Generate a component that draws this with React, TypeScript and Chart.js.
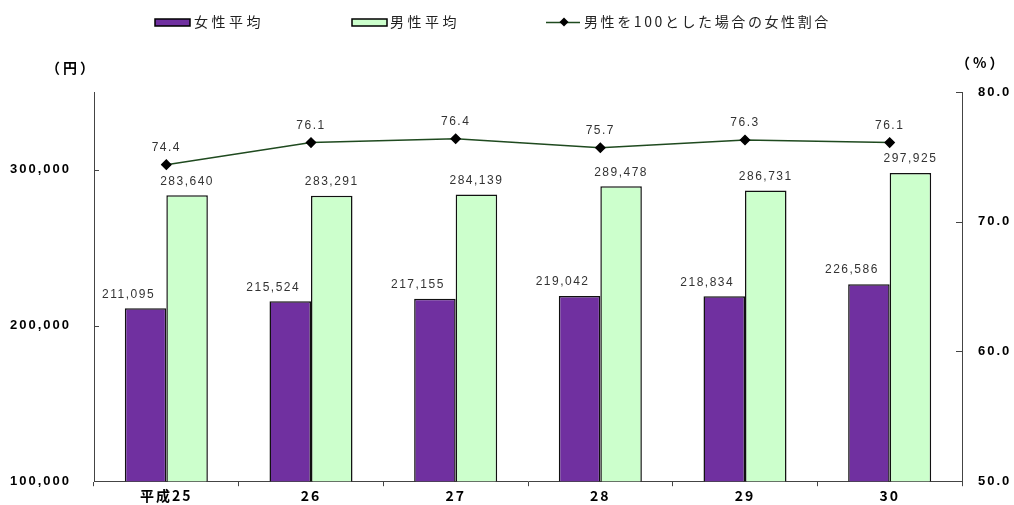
import React, { useEffect, useRef } from "react";
import { Chart, registerables } from "chart.js";

Chart.register(...registerables);

const categories = ["平成25", "26", "27", "28", "29", "30"];
const femaleAvg = [211095, 215524, 217155, 219042, 218834, 226586];
const maleAvg = [283640, 283291, 284139, 289478, 286731, 297925];
const ratio = [74.4, 76.1, 76.4, 75.7, 76.3, 76.1];
const leftTicks = [100000, 200000, 300000];
const rightTicks = [50, 60, 70, 80];
const seriesNames = ["女性平均", "男性平均", "男性を100とした場合の女性割合"];
const leftUnit = "（円）";
const rightUnit = "（%）";

const JP = '"Noto Sans CJK JP", "Liberation Sans", sans-serif';
const NUM = '"Liberation Sans", Arial, sans-serif';

const fmt = (v: number) => v.toLocaleString("en-US");

const spacingPlugin = {
  id: "spacing",
  beforeUpdate(chart: any) {
    chart.ctx.letterSpacing = "2px";
  },
  beforeLayout(chart: any) {
    chart.ctx.letterSpacing = "2px";
  },
  beforeDraw(chart: any) {
    chart.ctx.letterSpacing = "2px";
  },
};

const decorPlugin = {
  id: "decor",
  afterDraw(chart: any) {
    const ctx = chart.ctx;
    const ya = chart.scales.y;
    const yb = chart.scales.y1;
    ctx.save();
    // inward tick marks
    ctx.strokeStyle = "#444";
    ctx.lineWidth = 1;
    ya.ticks.forEach((t: any) => {
      const py = Math.round(ya.getPixelForValue(t.value)) + 0.5;
      ctx.beginPath();
      ctx.moveTo(ya.right, py);
      ctx.lineTo(ya.right + 5, py);
      ctx.stroke();
    });
    yb.ticks.forEach((t: any) => {
      const py = Math.round(yb.getPixelForValue(t.value)) + 0.5;
      ctx.beginPath();
      ctx.moveTo(yb.left, py);
      ctx.lineTo(yb.left - 6, py);
      ctx.stroke();
    });

    // data labels
    ctx.letterSpacing = "1.5px";
    ctx.font = `12px ${NUM}`;
    ctx.fillStyle = "#333";
    ctx.textAlign = "center";
    ctx.textBaseline = "middle";
    chart.data.datasets.forEach((ds: any, di: number) => {
      const meta = chart.getDatasetMeta(di);
      meta.data.forEach((el: any, i: number) => {
        const v = ds.data[i];
        if (ds.type === "line") {
          ctx.fillText(v.toFixed(1), el.x, el.y - 17);
        } else {
          const off = di === 0 ? -17 : 0;
          ctx.fillText(fmt(v), el.x + off, el.y - 14);
        }
      });
    });

    // unit labels
    ctx.letterSpacing = "3px";
    ctx.font = `bold 14px ${JP}`;
    ctx.fillStyle = "#000";
    ctx.textAlign = "left";
    ctx.fillText(leftUnit, 46, 68);
    ctx.fillText(rightUnit, 956, 63);

    // legend
    const ly = 22;
    ctx.letterSpacing = "3.5px";
    ctx.font = `14px ${JP}`;
    const ds0 = chart.data.datasets[0];
    const ds1 = chart.data.datasets[1];
    const ds2 = chart.data.datasets[2];
    ctx.fillStyle = ds0.backgroundColor;
    ctx.fillRect(155, ly - 3, 35, 7);
    ctx.strokeStyle = "#000";
    ctx.lineWidth = 1.5;
    ctx.strokeRect(155, ly - 3, 35, 7);
    ctx.fillStyle = ds1.backgroundColor;
    ctx.fillRect(352, ly - 3, 35, 7);
    ctx.strokeRect(352, ly - 3, 35, 7);
    ctx.strokeStyle = ds2.borderColor;
    ctx.lineWidth = 1.5;
    ctx.beginPath();
    ctx.moveTo(546, ly + 0.5);
    ctx.lineTo(580, ly + 0.5);
    ctx.stroke();
    ctx.fillStyle = "#000";
    ctx.beginPath();
    ctx.moveTo(564, ly - 4.5);
    ctx.lineTo(568.5, ly);
    ctx.lineTo(564, ly + 4.5);
    ctx.lineTo(559.5, ly);
    ctx.closePath();
    ctx.fill();
    ctx.fillStyle = "#222";
    ctx.fillText(ds0.label, 194, ly);
    ctx.fillText(ds1.label, 390, ly);
    ctx.letterSpacing = "2.6px";
    ctx.fillText(ds2.label, 584, ly);
    ctx.restore();
  },
};

export default function App() {
  const ref = useRef<HTMLCanvasElement | null>(null);
  useEffect(() => {
    if (!ref.current) return;
    const chart = new Chart(ref.current, {
      type: "bar",
      data: {
        labels: categories,
        datasets: [
          {
            type: "bar",
            label: seriesNames[0],
            data: femaleAvg,
            backgroundColor: "#7030A0",
            borderColor: "#111",
            borderWidth: 1.5,
            yAxisID: "y",
            order: 2,
            categoryPercentage: 0.574,
            barPercentage: 1,
          },
          {
            type: "bar",
            label: seriesNames[1],
            data: maleAvg,
            backgroundColor: "#CCFFCC",
            borderColor: "#111",
            borderWidth: 1.5,
            yAxisID: "y",
            order: 2,
            categoryPercentage: 0.574,
            barPercentage: 1,
          },
          {
            type: "line",
            label: seriesNames[2],
            data: ratio,
            borderColor: "#1F4A1F",
            borderWidth: 1.5,
            pointStyle: "rectRot",
            pointRadius: 4.5,
            pointBackgroundColor: "#000",
            pointBorderColor: "#000",
            yAxisID: "y1",
            order: 0,
          },
        ] as any,
      },
      options: {
        animation: false,
        responsive: true,
        maintainAspectRatio: false,
        layout: { padding: { top: 92, left: 10, right: 0, bottom: 0 } },
        plugins: {
          legend: { display: false },
          tooltip: { enabled: false },
        },
        scales: {
          x: {
            offset: true,
            grid: {
              display: true,
              offset: true,
              drawOnChartArea: false,
              drawTicks: true,
              tickLength: 5,
              color: "#444",
            },
            border: { display: true, color: "#444", width: 1 },
            ticks: {
              color: "#000",
              font: { family: JP, size: 14, weight: "bold" },
              padding: 1,
              maxRotation: 0,
            },
          },
          y: {
            position: "left",
            min: 100000,
            max: 350000,
            grid: { display: false, drawTicks: false, tickLength: 0 },
            border: { display: true, color: "#444", width: 1 },
            ticks: {
              color: "#000",
              padding: 2,
              crossAlign: "far",
              autoSkip: false,
              font: { family: NUM, size: 13, weight: "bold" },
              callback: (v: any) => fmt(Number(v)),
            },
            afterBuildTicks: (s: any) => {
              s.ticks = leftTicks.map((v) => ({ value: v }));
            },
            afterFit: (s: any) => {
              s.width = 84;
            },
          },
          y1: {
            position: "right",
            min: 50,
            max: 80,
            grid: { display: false, drawTicks: false, tickLength: 0 },
            border: { display: true, color: "#444", width: 1 },
            ticks: {
              color: "#000",
              padding: 16,
              autoSkip: false,
              font: { family: NUM, size: 13, weight: "bold" },
              callback: (v: any) => Number(v).toFixed(1),
            },
            afterBuildTicks: (s: any) => {
              s.ticks = rightTicks.map((v) => ({ value: v }));
            },
            afterFit: (s: any) => {
              s.width = 52;
            },
          },
        },
      } as any,
      plugins: [spacingPlugin, decorPlugin],
    });
    return () => chart.destroy();
  }, []);
  return (
    <div style={{ position: "fixed", left: 0, top: 0, width: 1014, height: 505, background: "#fff" }}>
      <canvas ref={ref} />
    </div>
  );
}
